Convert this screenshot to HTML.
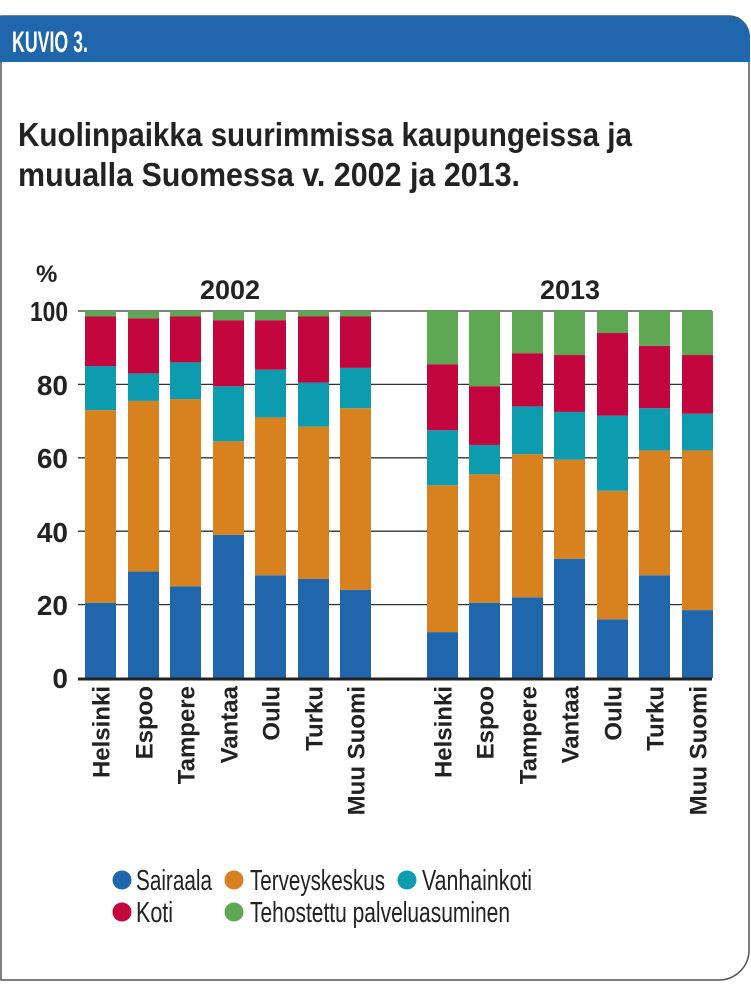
<!DOCTYPE html>
<html><head><meta charset="utf-8"><style>
html,body{margin:0;padding:0;background:#fff;}
svg{display:block;}
text{font-family:"Liberation Sans Narrow","Liberation Sans",sans-serif;}
</style></head><body>
<svg width="751" height="984" viewBox="0 0 751 984" xmlns="http://www.w3.org/2000/svg">
<path d="M1,16 H729 A20,20 0 0 1 749,36 V950 A30,30 0 0 1 719,980 H1 Z" fill="#fff" stroke="#555" stroke-width="1.5"/>
<path d="M0,16 H729 A21,21 0 0 1 750,37 V62 H0 Z" fill="#1f66ad"/>
<text x="12" y="52" font-size="30" font-weight="bold" fill="#fff" textLength="76" lengthAdjust="spacingAndGlyphs">KUVIO 3.</text>
<text x="18" y="146" font-size="33" font-weight="bold" fill="#222" textLength="614" lengthAdjust="spacingAndGlyphs">Kuolinpaikka suurimmissa kaupungeissa ja</text>
<text x="18" y="186" font-size="33" font-weight="bold" fill="#222" textLength="502" lengthAdjust="spacingAndGlyphs">muualla Suomessa v. 2002 ja 2013.</text>
<text x="36" y="282" font-size="24" font-weight="bold" fill="#222">%</text>
<text x="230" y="299" font-size="27" font-weight="bold" fill="#222" text-anchor="middle">2002</text>
<text x="570" y="299" font-size="27" font-weight="bold" fill="#222" text-anchor="middle">2013</text>
<g stroke="#333" stroke-width="1.3">
<line x1="78" y1="311" x2="712" y2="311"/>
<line x1="78" y1="384.4" x2="712" y2="384.4"/>
<line x1="78" y1="457.8" x2="712" y2="457.8"/>
<line x1="78" y1="531.2" x2="712" y2="531.2"/>
<line x1="78" y1="604.6" x2="712" y2="604.6"/>
</g>
<g font-size="28" font-weight="bold" fill="#222" text-anchor="end">
<text x="68" y="321" textLength="38" lengthAdjust="spacingAndGlyphs">100</text><text x="68" y="395">80</text><text x="68" y="468">60</text><text x="68" y="542">40</text><text x="68" y="615">20</text><text x="68" y="688">0</text>
</g>
<g id="bars"></g>
<line x1="78" y1="679" x2="712" y2="679" stroke="#222" stroke-width="3"/>
<g id="labels" font-family="Liberation Sans, sans-serif" font-size="24" font-weight="bold" fill="#222"></g>
<g fill="#222" font-size="29">
<circle cx="122" cy="880" r="9.5" fill="#1f66ad"/><text x="136" y="890" textLength="76" lengthAdjust="spacingAndGlyphs">Sairaala</text>
<circle cx="234" cy="880" r="9.5" fill="#d8811f"/><text x="250" y="890" textLength="135" lengthAdjust="spacingAndGlyphs">Terveyskeskus</text>
<circle cx="407" cy="880" r="9.5" fill="#0d9bb0"/><text x="422" y="890" textLength="110" lengthAdjust="spacingAndGlyphs">Vanhainkoti</text>
<circle cx="122" cy="912" r="9.5" fill="#c4063e"/><text x="136" y="922" textLength="37" lengthAdjust="spacingAndGlyphs">Koti</text>
<circle cx="234" cy="912" r="9.5" fill="#5ea854"/><text x="250" y="922" textLength="260" lengthAdjust="spacingAndGlyphs">Tehostettu palveluasuminen</text>
</g>
</svg>
<script>
const d=[[20.5,73,85,98.5],[29,75.5,83,98],[25,76,86,98.5],[39,64.5,79.5,97.5],[28,71,84,97.5],[27,68.5,80.5,98.5],[24,73.5,84.5,98.5],
[12.5,52.5,67.5,85.5],[20.5,55.5,63.5,79.5],[22,61,74,88.5],[32.5,59.5,72.5,88],[16,51,71.5,94],[28,62,73.5,90.5],[18.5,62,72,88]];
const xs=[85,128,170,213,255,298,340,427,469,512,554,597,639,682];
const names=["Helsinki","Espoo","Tampere","Vantaa","Oulu","Turku","Muu Suomi"];
const cols=["#1f66ad","#d8811f","#0d9bb0","#c4063e","#5ea854"];
const ns="http://www.w3.org/2000/svg";
const g=document.getElementById("bars"),L=document.getElementById("labels");
const Y=v=>678-v*3.67;
d.forEach((r,i)=>{const t=[0,...r,100];for(let k=0;k<5;k++){const e=document.createElementNS(ns,"rect");e.setAttribute("x",xs[i]);e.setAttribute("width",31);e.setAttribute("y",Y(t[k+1]));e.setAttribute("height",Y(t[k])-Y(t[k+1]));e.setAttribute("fill",cols[k]);g.appendChild(e);}
const tx=document.createElementNS(ns,"text");const cx=xs[i]+15.5+9;tx.setAttribute("transform",`translate(${cx},686) rotate(-90)`);tx.setAttribute("text-anchor","end");tx.textContent=names[i%7];L.appendChild(tx);});
</script>
</body></html>
